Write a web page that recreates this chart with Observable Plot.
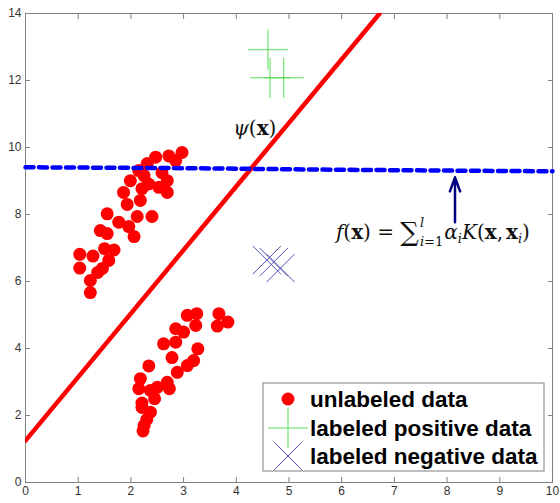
<!DOCTYPE html>
<html><head><meta charset="utf-8">
<script src="https://cdn.jsdelivr.net/npm/d3@7"></script>
<script src="https://cdn.jsdelivr.net/npm/@observablehq/plot@0.6"></script>
<style>body{margin:0;background:#fff}</style>
</head><body><div id="chart"></div>
<script>
// ---- data ----
const unlabeledX = [1.03,1.03,1.28,1.37,1.23,1.23,1.46,1.50,1.68,1.58,1.42,1.55,1.55,1.77,1.96,2.06,2.12,2.40,1.93,2.18,1.86,1.99,2.15,2.31,2.47,2.25,2.21,2.34,2.53,2.59,2.69,2.69,2.72,2.85,2.97,
  3.25,3.07,3.23,3.00,2.85,3.67,3.84,3.64,2.62,2.85,3.27,2.78,3.19,3.07,2.88,2.34,2.18,2.15,2.37,2.50,2.69,2.73,2.45,2.21,2.21,2.37,2.30,2.25,2.23];
const unlabeledY = [6.81,6.40,6.76,6.27,6.03,5.67,6.39,6.98,6.94,6.63,7.52,7.43,8.02,7.77,7.64,7.34,7.94,7.94,8.30,8.42,8.66,9.01,9.31,9.52,9.71,9.16,8.77,8.91,8.81,9.25,9.01,8.66,9.75,9.61,9.85,
  5.04,4.99,4.69,4.49,4.59,5.04,4.79,4.67,4.14,4.19,3.99,3.73,3.64,3.49,3.29,3.48,3.10,2.80,2.75,2.84,2.99,2.80,2.50,2.37,2.24,2.10,1.88,1.70,1.54];
const positiveX = [4.60,4.64,4.90];
const positiveY = [12.92,12.08,12.08];
const negativeX = [4.58,4.71,4.84];
const negativeY = [6.64,6.58,6.40];
const psiLineX = [0,6.72];
const psiLineY = [1.25,14];
const fLineX = [0,3.3,5.6,8.1,10];
const fLineY = [9.41,9.38,9.34,9.31,9.29];
const arrowX = [8.15];
const arrowFromY = [7.77];
const arrowToY = [9.11];
const xTicks = [0,1,2,3,4,5,6,7,8,9,10];
const yTicks = [0,2,4,6,8,10,12,14];
const legendLabels = ["unlabeled data","labeled positive data","labeled negative data"];
const annotations = [{name:"psi", x:3.95, y:10.58},{name:"f", x:5.90, y:7.47}];

// ---- tables ----
const unlabeled = unlabeledX.map((x,i)=>({x, y:unlabeledY[i]}));
const positive = positiveX.map((x,i)=>({x, y:positiveY[i]}));
const negative = negativeX.map((x,i)=>({x, y:negativeY[i]}));
const psiLine = psiLineX.map((x,i)=>({x, y:psiLineY[i]}));
const fLine = fLineX.map((x,i)=>({x, y:fLineY[i]}));
const arrows = arrowX.map((x,i)=>({x, y1:arrowFromY[i], y2:arrowToY[i]}));

const plusSymbol = {draw(ctx,size){const r=Math.sqrt(size/Math.PI);ctx.moveTo(-r,0);ctx.lineTo(r,0);ctx.moveTo(0,-r);ctx.lineTo(0,r);}};
const timesSymbol = {draw(ctx,size){const r=Math.sqrt(size/Math.PI);ctx.moveTo(-r,-r);ctx.lineTo(r,r);ctx.moveTo(-r,r);ctx.lineTo(r,-r);}};

const W=560, H=503, mL=25, mR=8, mT=13, mB=21;
const GREEN="#55dd55", NAVYX="#5050b8", AXIS="#808080";

const plot = Plot.plot({
  width:W, height:H, marginLeft:mL, marginRight:mR, marginTop:mT, marginBottom:mB,
  style:{fontFamily:"'Liberation Sans', Arial, sans-serif", fontSize:"12px", background:"#fff"},
  x:{domain:[0,10], label:null},
  y:{domain:[0,14], label:null},
  marks:[
    Plot.axisX({ticks:xTicks, anchor:"bottom", tickSize:-5, tickPadding:9, stroke:AXIS, fill:"#333", label:null, fontSize:12}),
    Plot.axisX({ticks:xTicks, anchor:"top", tickSize:-5, tickFormat:()=>"", stroke:AXIS, label:null}),
    Plot.axisY({ticks:yTicks, anchor:"left", tickSize:-5, tickPadding:9, stroke:AXIS, fill:"#333", label:null, fontSize:12}),
    Plot.axisY({ticks:yTicks, anchor:"right", tickSize:-5, tickFormat:()=>"", stroke:AXIS, label:null}),
    Plot.frame({stroke:AXIS}),
    Plot.dot(unlabeled, {x:"x", y:"y", r:6.5, fill:"red", stroke:null}),
    Plot.dot(positive, {x:"x", y:"y", r:20, symbol:plusSymbol, fill:"none", stroke:GREEN, strokeWidth:1}),
    Plot.dot(negative, {x:"x", y:"y", r:14, symbol:timesSymbol, fill:"none", stroke:NAVYX, strokeWidth:1}),
    Plot.line(psiLine, {x:"x", y:"y", stroke:"red", strokeWidth:4.5, clip:true}),
    Plot.line(fLine, {x:"x", y:"y", stroke:"blue", strokeWidth:4.5, strokeDasharray:"8,5.5"}),
    Plot.arrow(arrows, {x:"x", y1:"y1", y2:"y2", stroke:"#000080", strokeWidth:2.5, headLength:10, headAngle:40})
  ]
});
document.getElementById("chart").appendChild(plot);

const svg = d3.select(plot);
const sx = plot.scale("x"), sy = plot.scale("y");
const serif = "'DejaVu Serif', 'Liberation Serif', serif";

// psi(x) label
const aPsi = annotations.find(a=>a.name==="psi");
const t1 = svg.append("text").attr("text-anchor","start").attr("x", sx.apply(aPsi.x)).attr("y", sy.apply(aPsi.y)).attr("dy","0.35em")
  .style("font-family", serif).style("font-size","20px").attr("fill","#111");
t1.append("tspan").style("font-style","italic").text("ψ");
t1.append("tspan").text("(");
t1.append("tspan").style("font-weight","bold").text("x");
t1.append("tspan").text(")");

// f(x) formula
const aF = annotations.find(a=>a.name==="f");
const t2 = svg.append("text").attr("text-anchor","start").attr("x", sx.apply(aF.x)).attr("y", sy.apply(aF.y)).attr("dy","0.35em")
  .style("font-family", serif).style("font-size","20px").attr("fill","#111");
t2.append("tspan").style("font-style","italic").text("f");
t2.append("tspan").text("(");
t2.append("tspan").style("font-weight","bold").text("x");
t2.append("tspan").text(") = ");
t2.append("tspan").style("font-size","26px").attr("dy", 2).text("∑");
t2.append("tspan").style("font-size","13px").style("font-style","italic").attr("dx",1).attr("dy",-14).text("l");
t2.append("tspan").style("font-size","13px").style("font-style","italic").attr("dx",-4.2).attr("dy",19).text("i");
t2.append("tspan").style("font-size","13px").text("=1");
t2.append("tspan").style("font-style","italic").attr("dx",1).attr("dy",-7).text("α");
t2.append("tspan").style("font-size","13px").style("font-style","italic").attr("dy",4).text("i");
t2.append("tspan").style("font-style","italic").attr("dy",-4).text("K");
t2.append("tspan").text("(");
t2.append("tspan").style("font-weight","bold").text("x");
t2.append("tspan").text(",");
t2.append("tspan").style("font-weight","bold").attr("dx",3).text("x");
t2.append("tspan").style("font-size","13px").style("font-style","italic").attr("dy",4).text("i");
t2.append("tspan").attr("dy",-4).text(")");

// legend
const lw=281, lh=88;
const lx = W - mR - 8 - lw, ly = H - mB - 11 - lh;
const lg = svg.append("g").attr("text-anchor","start");
lg.append("rect").attr("x",lx).attr("y",ly).attr("width",lw).attr("height",lh).attr("fill","#fff").attr("stroke",AXIS);
const rows = [ly+16, ly+45, ly+73];
const mx = lx+25;
lg.append("circle").attr("cx",mx).attr("cy",rows[0]).attr("r",6.5).attr("fill","red");
lg.append("path").attr("d",`M${mx-20},${rows[1]}H${mx+20}M${mx},${rows[1]-20}V${rows[1]+20}`).attr("stroke",GREEN).attr("fill","none");
lg.append("path").attr("d",`M${mx-14},${rows[2]-14}L${mx+14},${rows[2]+14}M${mx-14},${rows[2]+14}L${mx+14},${rows[2]-14}`).attr("stroke",NAVYX).attr("fill","none");
legendLabels.forEach((s,i)=>{
  lg.append("text").attr("x",lx+47).attr("y",rows[i]).attr("dy","0.35em")
    .style("font-family","'Liberation Sans', Arial, sans-serif").style("font-weight","bold").style("font-size","22.5px")
    .attr("fill","#000").text(s);
});
</script></body></html>
